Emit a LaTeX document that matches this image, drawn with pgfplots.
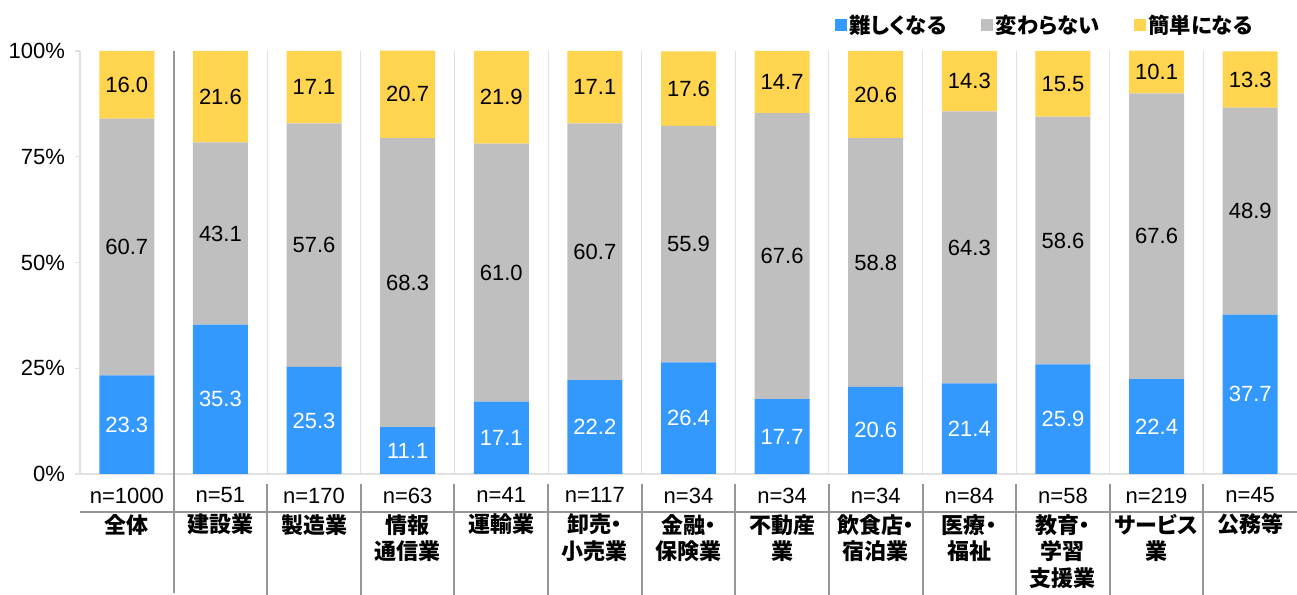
\documentclass[border=0pt]{standalone}
\usepackage{pgfplots}
\pgfplotsset{compat=1.18}
\usepackage{pgfplotstable}
\usepackage{fontspec}
\setmainfont{Liberation Sans}
\newfontfamily\cjk{Noto Sans CJK JP}[RawFeature=+palt]
\newcommand\jb[1]{{\cjk\bfseries #1}}
\definecolor{cblue}{RGB}{51,153,255}
\definecolor{cgray}{RGB}{191,191,191}
\definecolor{cyellow}{RGB}{255,212,79}
\definecolor{sepc}{RGB}{150,150,150}
\definecolor{gridc}{RGB}{225,225,225}

\pgfplotstableread{
x b g y
0 23.3 60.7 16.0
1 35.3 43.1 21.6
2 25.3 57.6 17.1
3 11.1 68.3 20.7
4 17.1 61.0 21.9
5 22.2 60.7 17.1
6 26.4 55.9 17.6
7 17.7 67.6 14.7
8 20.6 58.8 20.6
9 21.4 64.3 14.3
10 25.9 58.6 15.5
11 22.4 67.6 10.1
12 37.7 48.9 13.3
}\data

\pgfplotstableread{
x bc gc yc bl gl yl
0 11.65 53.65 92.0 23.3 60.7 16.0
1 17.65 56.85 89.2 35.3 43.1 21.6
2 12.65 54.1 91.45 25.3 57.6 17.1
3 5.55 45.25 89.75 11.1 68.3 20.7
4 8.55 47.6 89.05 17.1 61.0 21.9
5 11.1 52.55 91.45 22.2 60.7 17.1
6 13.2 54.35 91.1 26.4 55.9 17.6
7 8.85 51.5 92.65 17.7 67.6 14.7
8 10.3 50.0 89.7 20.6 58.8 20.6
9 10.7 53.55 92.85 21.4 64.3 14.3
10 12.95 55.2 92.25 25.9 58.6 15.5
11 11.2 56.2 95.05 22.4 67.6 10.1
12 18.85 62.15 93.25 37.7 48.9 13.3
}\labels

\begin{document}
\begin{tikzpicture}
\begin{axis}[
  at={(0,0)}, anchor=south west,
  scale only axis, width=912.75pt, height=317.25pt,
  xmin=-0.5, xmax=12.5, ymin=0, ymax=100,
  ybar stacked, bar width=41.25pt,
  clip=false,
  axis x line*=bottom, axis y line*=left,
  axis line style={draw=gridc, line width=1pt},
  /pgf/number format/assume math mode=true,
  ytick={0,25,50,75,100},
  yticklabel={\pgfmathprintnumber{\tick}\%},
  yticklabel style={font=\fontsize{16.5pt}{19pt}\selectfont, anchor=east, xshift=-4pt},
  ytick style={draw=gridc, line width=1pt},
  tick align=outside, major tick length=3.75pt,
  xtick={0,...,12},
  x tick style={draw=none},
  xticklabels={
    {n=1000\\[2.6pt]\jb{全体}},
    {n=51\\[2.6pt]\jb{建設業}},
    {n=170\\[2.6pt]\jb{製造業}},
    {n=63\\[2.6pt]\jb{情報}\\\jb{通信業}},
    {n=41\\[2.6pt]\jb{運輸業}},
    {n=117\\[2.6pt]\jb{卸売・}\\\jb{小売業}},
    {n=34\\[2.6pt]\jb{金融・}\\\jb{保険業}},
    {n=34\\[2.6pt]\jb{不動産}\\\jb{業}},
    {n=34\\[2.6pt]\jb{飲食店・}\\\jb{宿泊業}},
    {n=84\\[2.6pt]\jb{医療・}\\\jb{福祉}},
    {n=58\\[2.6pt]\jb{教育・}\\\jb{学習}\\\jb{支援業}},
    {n=219\\[2.6pt]\jb{サービス}\\\jb{業}},
    {n=45\\[2.6pt]\jb{公務等}}
  },
  xticklabel style={font=\fontsize{16.5pt}{19.9pt}\selectfont, align=center, anchor=north, yshift=-3pt},
  minor xtick={0.5,1.5,...,11.5},
  xminorgrids, minor x grid style={draw=gridc, line width=0.8pt},
  minor tick length=0pt,
  legend style={at={(rel axis cs:0.793,1.0615)}, anchor=center, draw=none, fill=none,
    legend columns=3, font={\cjk\bfseries\fontsize{16pt}{18pt}\selectfont},
    /tikz/every even column/.append style={column sep=24pt}},
]
\addplot[fill=cblue, draw=none, legend image code/.code={\fill[cblue] (0pt,-4.5pt) rectangle (9pt,4.5pt);}] table[x=x,y=b]{\data};
\addplot[fill=cgray, draw=none, legend image code/.code={\fill[cgray] (0pt,-4.5pt) rectangle (9pt,4.5pt);}] table[x=x,y=g]{\data};
\addplot[fill=cyellow, draw=none, legend image code/.code={\fill[cyellow] (0pt,-4.5pt) rectangle (9pt,4.5pt);}] table[x=x,y=y]{\data};
\legend{難しくなる,変わらない,簡単になる}

\draw[sepc, line width=1.5pt] (axis cs:0.5,100) -- ([yshift=-89.25pt]axis cs:0.5,0);
\draw[sepc, line width=1.5pt] ([yshift=-28.5pt]axis cs:-0.5,0) -- ([yshift=-28.5pt]axis cs:12.5,0);
\draw[sepc, line width=1.5pt] ([yshift=-7.5pt]axis cs:1.5,0) -- ([yshift=-90.75pt]axis cs:1.5,0);
\draw[sepc, line width=1.5pt] ([yshift=-7.5pt]axis cs:2.5,0) -- ([yshift=-90.75pt]axis cs:2.5,0);
\draw[sepc, line width=1.5pt] ([yshift=-7.5pt]axis cs:3.5,0) -- ([yshift=-90.75pt]axis cs:3.5,0);
\draw[sepc, line width=1.5pt] ([yshift=-7.5pt]axis cs:4.5,0) -- ([yshift=-90.75pt]axis cs:4.5,0);
\draw[sepc, line width=1.5pt] ([yshift=-7.5pt]axis cs:5.5,0) -- ([yshift=-90.75pt]axis cs:5.5,0);
\draw[sepc, line width=1.5pt] ([yshift=-7.5pt]axis cs:6.5,0) -- ([yshift=-90.75pt]axis cs:6.5,0);
\draw[sepc, line width=1.5pt] ([yshift=-7.5pt]axis cs:7.5,0) -- ([yshift=-90.75pt]axis cs:7.5,0);
\draw[sepc, line width=1.5pt] ([yshift=-7.5pt]axis cs:8.5,0) -- ([yshift=-90.75pt]axis cs:8.5,0);
\draw[sepc, line width=1.5pt] ([yshift=-7.5pt]axis cs:9.5,0) -- ([yshift=-90.75pt]axis cs:9.5,0);
\draw[sepc, line width=1.5pt] ([yshift=-7.5pt]axis cs:10.5,0) -- ([yshift=-90.75pt]axis cs:10.5,0);
\draw[sepc, line width=1.5pt] ([yshift=-7.5pt]axis cs:11.5,0) -- ([yshift=-90.75pt]axis cs:11.5,0);
\end{axis}

\begin{axis}[
  at={(0,0)}, anchor=south west,
  scale only axis, width=912.75pt, height=317.25pt,
  xmin=-0.5, xmax=12.5, ymin=0, ymax=100,
  hide axis, clip=false,
  point meta=explicit symbolic,
  nodes near coords,
  every node near coord/.append style={anchor=center, font=\fontsize{16.5pt}{19pt}\selectfont},
]
\addplot[draw=none, mark=none, every node near coord/.append style={text=white}] table[x=x,y=bc,meta=bl]{\labels};
\addplot[draw=none, mark=none, every node near coord/.append style={text=black}] table[x=x,y=gc,meta=gl]{\labels};
\addplot[draw=none, mark=none, every node near coord/.append style={text=black}] table[x=x,y=yc,meta=yl]{\labels};
\end{axis}
\pgfresetboundingbox
\path (-60pt,-90.75pt) rectangle (912.75pt,355.5pt);
\end{tikzpicture}
\end{document}
